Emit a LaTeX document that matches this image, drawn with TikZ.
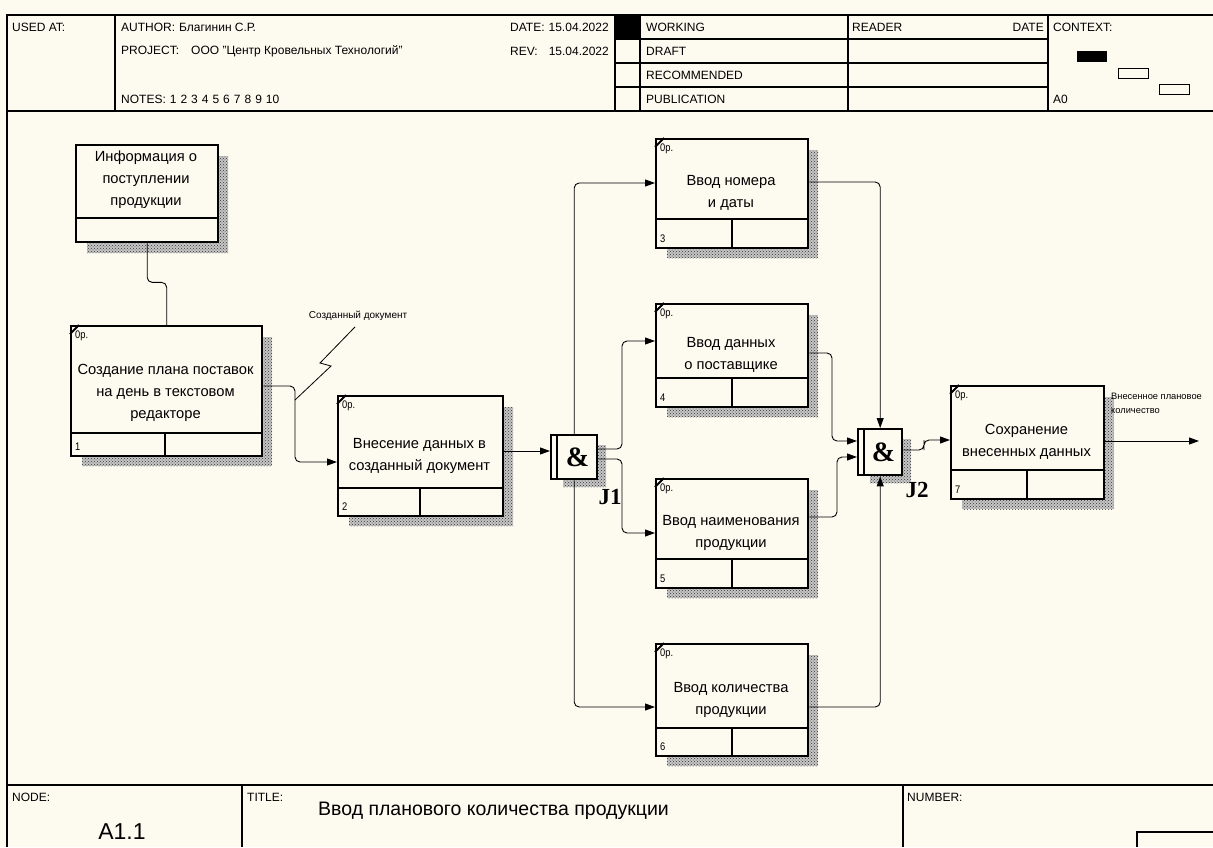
\documentclass[tikz,border=0pt]{standalone}
\usepackage{fontspec}
\setmainfont{Liberation Sans}
\newfontfamily\narrowfont[FakeStretch=0.85]{Liberation Sans}
\newfontfamily\serifb{Liberation Serif}
\usetikzlibrary{arrows.meta,patterns,calc}
\definecolor{bgcol}{HTML}{FDFAF0}
\tikzset{
  frameline/.style={line width=1.3pt, black},
  abox/.style={draw, line width=2.4pt, fill=bgcol, rectangle, inner sep=0pt},
  shadowfill/.style={fill=gray!45, postaction={pattern=crosshatch dots, pattern color=black!80}},
  boxtext/.style={align=center, font=\fontsize{14.7}{22}\selectfont, inner sep=0pt},
  smalltext/.style={font=\fontsize{10}{14}\selectfont, inner sep=0pt},
  numtext/.style={font=\narrowfont\fontsize{11}{12}\selectfont, inner sep=0pt},
  hdr/.style={font=\fontsize{12}{14}\selectfont, inner sep=0pt, anchor=west},
  conn/.style={line width=0.9pt, rounded corners=5pt},
  arr/.style={-{Triangle[length=10pt,width=7pt]}},
  junc/.style={draw, line width=2.4pt, fill=bgcol, rectangle, inner sep=0pt},
  amp/.style={font=\serifb\bfseries\fontsize{28}{28}\selectfont, inner sep=0pt},
  jlabel/.style={font=\serifb\bfseries\fontsize{23}{23}\selectfont, inner sep=0pt},
}
% name, left, top, right, bottom, divider y, divider x, number, text
\newcommand{\ibox}[9]{%
  \fill[shadowfill] (#2+12,#3+12) rectangle (#4+11,#5+11);
  \node[abox, anchor=north west, minimum width={#4-#2}, minimum height={#5-#3}] (#1) at (#2,#3) {};
  \draw[line width=2.2pt] (#2,#6) -- (#4,#6);
  \draw[line width=2.2pt] (#7,#6) -- (#7,#5);
  \node[boxtext] (#1t) at ({(#2+#4)/2},{(#3+#6)/2+14}) {#9};
  \node[numtext, anchor=south west] (#1n) at (#2+5,#5-4) {#8};
  \node[numtext, anchor=north west] (#1o) at (#2+5,#3+6) {0p.};
  \draw[line width=2pt] (#2,#3+9) -- (#2+9,#3);
}
\newcommand{\jbox}[6]{%
  \fill[shadowfill] (#2+13,#3+11) rectangle (#4+10,#5+9);
  \node[junc, anchor=north west, minimum width={#4-#2}, minimum height={#5-#3}] (#1) at (#2,#3) {};
  \draw[line width=2pt] (#6,#3) -- (#6,#5);
  \node[amp] (#1a) at ({(#6+#4)/2+1},{(#3+#5)/2+1}) {\&};
}
\begin{document}
\begin{tikzpicture}[x=1pt,y=-1pt]
\fill[bgcol] (0,0) rectangle (1213,847);
\useasboundingbox (0,0) rectangle (1213,847);

% ---------- frame / header ----------
\draw[frameline] (1213,15) -- (7,15) -- (7,847);
\draw[frameline] (7,111) -- (1213,111);
\draw[frameline] (115,15) -- (115,111);
\draw[frameline] (615,15) -- (615,111);
\draw[frameline] (640,15) -- (640,111);
\draw[frameline] (848,15) -- (848,111);
\draw[frameline] (1048,15) -- (1048,111);
\draw[frameline] (615,39) -- (1048,39);
\draw[frameline] (615,63) -- (1048,63);
\draw[frameline] (615,87) -- (1048,87);
\fill[black] (615,15) rectangle (640,39);

\node[hdr] (usedat) at (12,27) {USED AT:};
\node[hdr] (author) at (121,27) {AUTHOR:\hspace{4pt}Благинин С.Р.};
\node[hdr] (project) at (121,51) {PROJECT:\hspace{12pt}ООО "Центр Кровельных Технологий"};
\node[hdr] (notes) at (121,99) {NOTES:\hspace{4pt}1\hspace{4pt}2\hspace{4pt}3\hspace{4pt}4\hspace{4pt}5\hspace{4pt}6\hspace{4pt}7\hspace{4pt}8\hspace{4pt}9\hspace{4pt}10};
\node[hdr] (date) at (510,27) {DATE:\hspace{4pt}15.04.2022};
\node[hdr] (rev) at (510,51) {REV:\hspace{11pt}15.04.2022};
\node[hdr] (working) at (646,27) {WORKING};
\node[hdr] (draft) at (646,51) {DRAFT};
\node[hdr] (recom) at (646,75) {RECOMMENDED};
\node[hdr] (publ) at (646,99) {PUBLICATION};
\node[hdr] (reader) at (852,27) {READER};
\node[hdr, anchor=east] (rdate) at (1044,27) {DATE};
\node[hdr] (context) at (1053,27) {CONTEXT:};
\node[hdr] (a0) at (1053,99) {A0};
\fill[black] (1077,51) rectangle (1107,62);
\draw[line width=1pt] (1118,68) rectangle (1148,78);
\draw[line width=1pt] (1159,84) rectangle (1189,94);

% ---------- footer ----------
\draw[frameline] (7,785) -- (1213,785);
\draw[frameline] (242,785) -- (242,847);
\draw[frameline] (903,785) -- (903,847);
\draw[line width=1.3pt] (1137,847) -- (1137,832) -- (1213,832);
\node[hdr] (nodelbl) at (12,797) {NODE:};
\node[hdr] (titlelbl) at (247,797) {TITLE:};
\node[hdr] (numlbl) at (907,797) {NUMBER:};
\node[inner sep=0pt, font=\fontsize{23}{23}\selectfont] (nodeval) at (122,832) {A1.1};
\node[inner sep=0pt, anchor=west, font=\fontsize{19.5}{20}\selectfont] (title) at (318,811) {Ввод планового количества продукции};

% ---------- boxes ----------
\fill[shadowfill] (87,156) rectangle (228,253);
\node[abox, anchor=north west, minimum width=142, minimum height=97] (b0) at (75,144) {};
\draw[line width=2.2pt] (75,218) -- (217,218);
\node[boxtext] (b0t) at (146,180) {Информация о\\поступлении\\продукции};

\ibox{b1}{70}{325}{261}{455}{433}{165}{1}{Создание плана поставок\\на день в текстовом\\редакторе}
\ibox{b2}{337}{395}{502}{515}{488}{420}{2}{Внесение данных в\\созданный документ}
\ibox{b3}{655}{138}{807}{247}{219}{732}{3}{Ввод номера\\и даты}
\ibox{b4}{655}{303}{807}{406}{378}{732}{4}{Ввод данных\\о поставщике}
\ibox{b5}{655}{478}{807}{587}{559}{732}{5}{Ввод наименования\\продукции}
\ibox{b6}{655}{643}{807}{755}{728}{732}{6}{Ввод количества\\продукции}
\ibox{b7}{950}{385}{1103}{498}{470}{1027}{7}{Сохранение\\внесенных данных}

\jbox{j1}{550}{434}{596}{478}{557}
\jbox{j2}{857}{428}{901}{474}{864}
\node[jlabel] (j1l) at (610,497) {J1};
\node[jlabel] (j2l) at (917,490) {J2};

% ---------- connectors ----------
\draw[conn] (b0.south) -- ++(0,39) -| (b1.north);
\coordinate (zz) at (295,400);
\draw[conn, arr] ([yshift=-61pt]b1.north east) -| (zz) |- ([yshift=-67pt]b2.north west);
\node[smalltext] (lbl1) at (358,316) {Созданный документ};
\draw[line width=0.8pt] ([xshift=-3pt,yshift=-6pt]lbl1.south) -- (320,363) -- (331,366) -- (zz);

\draw[conn, arr] ([yshift=-56pt]b2.north east) coordinate (b2o) -- (j1.west |- b2o);

\draw[conn, arr] (j1.north) |- ([yshift=-45pt]b3.north west);
\draw[conn, arr] ([yshift=-15pt]j1.north east) -| (622,400) |- ([yshift=-38pt]b4.north west);
\draw[conn, arr] ([yshift=-25pt]j1.north east) -| (622,500) |- ([yshift=-55pt]b5.north west);
\draw[conn, arr] (j1.south) |- ([yshift=-64pt]b6.north west);

\draw[conn, arr] ([yshift=-44pt]b3.north east) -| (j2.north);
\draw[conn, arr] ([yshift=-50pt]b4.north east) -| (832,400) |- ([yshift=-13pt]j2.north west);
\draw[conn, arr] ([yshift=-39pt]b5.north east) -| (837,490) |- ([yshift=-29pt]j2.north west);
\draw[conn, arr] ([yshift=-64pt]b6.north east) -| (j2.south);

\draw[conn, arr] ([yshift=-22pt]j2.north east) -| (924,445) |- ([yshift=-55pt]b7.north west);
\coordinate (out) at (1199,441);
\draw[conn, arr] ([yshift=-56pt]b7.north east) -- (out);
\node[smalltext, anchor=north west, align=left, font=\fontsize{9.3}{14}\selectfont] (lbl2) at (1111,393) {Внесенное плановое\\количество};
\end{tikzpicture}
\end{document}
